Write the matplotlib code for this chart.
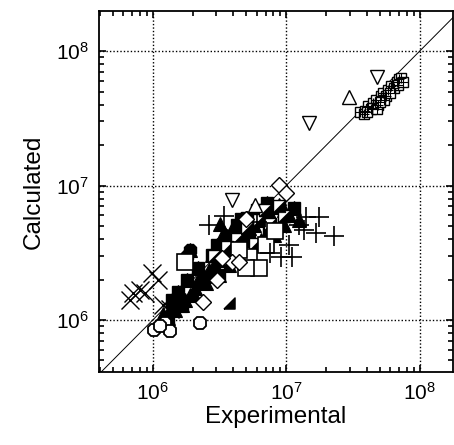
import matplotlib.pyplot as plt
import numpy as np
from matplotlib.ticker import LogLocator, NullFormatter

plt.rcParams['font.family'] = ['Liberation Sans', 'DejaVu Sans']
plt.rcParams['mathtext.fontset'] = 'custom'
plt.rcParams['mathtext.rm'] = 'Liberation Sans'

# --- data (experimental, calculated) ---
sqplus_x = [3.6e7, 3.9e7, 4.1e7, 4.3e7, 4.5e7, 4.7e7, 4.9e7, 5.1e7, 5.3e7, 5.6e7,
            5.8e7, 6.1e7, 6.4e7, 6.7e7, 7.0e7, 7.3e7, 6.9e7, 3.8e7, 4.4e7, 4.8e7,
            5.4e7, 6.0e7, 4.0e7, 5.0e7, 7.5e7]
sqplus_y = [3.5e7, 3.6e7, 3.9e7, 3.7e7, 4.1e7, 4.3e7, 4.0e7, 4.6e7, 4.9e7, 4.6e7,
            5.1e7, 5.5e7, 5.3e7, 5.9e7, 6.2e7, 6.3e7, 5.6e7, 3.4e7, 3.8e7, 3.7e7,
            4.3e7, 4.9e7, 3.5e7, 4.2e7, 5.9e7]

tri_up_x = [2.95e7, 5.8e6]
tri_up_y = [4.55e7, 7.2e6]

tri_dn_x = [4.78e7, 1.48e7, 3.95e6]
tri_dn_y = [6.4e7, 2.9e7, 7.8e6]

diam_x = [8.9e6, 1.0e7, 2.36e6, 3.05e6, 3.9e6, 4.4e6, 5.0e6, 3.3e6]
diam_y = [1.01e7, 8.8e6, 1.36e6, 1.98e6, 2.7e6, 2.7e6, 5.6e6, 2.9e6]

corner_x = [3.75e6]
corner_y = [1.34e6]

circ_x = [2.24e6, 1.03e6, 1.23e6, 1.34e6, 1.13e6]
circ_y = [9.5e5, 8.4e5, 9.5e5, 8.3e5, 9.0e5]

blob_x = [1.89e6, 1.82e6]
blob_y = [3.3e6, 3.0e6]

cross_x = [7.1e5, 8.7e5, 9.8e5, 1.09e6, 6.7e5, 8.0e5, 1.2e6, 1.35e6]
cross_y = [1.59e6, 1.59e6, 2.24e6, 1.98e6, 1.41e6, 1.67e6, 1.3e6, 1.2e6]

plus_x = [1.76e7, 2.28e7, 1.67e7, 1.11e7, 9.2e6, 1.41e7, 1.25e7, 1.37e7, 7.5e6, 2.66e6,
          1.05e7, 6.0e6, 3.4e6]
plus_y = [5.83e6, 4.2e6, 4.4e6, 2.94e6, 2.94e6, 5.83e6, 5.1e6, 4.7e6, 3.15e6, 5.1e6,
          3.6e6, 5.4e6, 5.9e6]

bigsq_x = [5.3e6, 6.3e6, 5.0e6, 4.45e6, 7.0e6, 8.2e6, 1.75e6]
bigsq_y = [2.94e6, 2.44e6, 2.44e6, 3.3e6, 3.6e6, 4.6e6, 2.7e6]

fill_x = [1.29e6, 1.46e6, 1.59e6, 1.39e6, 1.73e6, 1.89e6, 1.54e6, 2.06e6, 2.24e6, 1.82e6,
          2.44e6, 2.66e6, 2.17e6, 2.90e6, 3.16e6, 2.76e6, 3.45e6, 3.75e6, 3.05e6, 4.09e6,
          4.46e6, 3.63e6, 4.86e6, 5.30e6, 4.31e6, 5.77e6, 6.29e6, 5.12e6, 6.85e6, 7.47e6,
          6.08e6, 8.13e6, 8.87e6, 7.21e6, 9.66e6, 1.05e7, 1.15e7, 1.25e7, 9.66e6, 7.47e6,
          6.51e6, 8.13e6, 5.30e6, 4.46e6, 3.75e6, 3.16e6, 1.89e6, 1.35e6, 1.65e6, 2.0e6,
          2.5e6, 2.9e6, 3.4e6, 4.0e6, 4.6e6, 5.5e6, 3.2e6, 3.8e6, 2.2e6, 1.2e6]
fill_y = [1.03e6, 1.19e6, 1.29e6, 1.41e6, 1.41e6, 1.53e6, 1.62e6, 1.73e6, 1.92e6, 1.98e6,
          2.12e6, 2.35e6, 2.44e6, 2.56e6, 2.79e6, 3.04e6, 3.20e6, 3.43e6, 3.61e6, 3.73e6,
          4.07e6, 4.21e6, 4.51e6, 4.83e6, 5.08e6, 5.08e6, 5.54e6, 5.73e6, 6.03e6, 6.35e6,
          6.58e6, 6.92e6, 7.16e6, 7.41e6, 6.58e6, 6.03e6, 6.80e6, 5.54e6, 5.08e6, 4.67e6,
          3.93e6, 4.29e6, 3.93e6, 3.04e6, 2.56e6, 2.16e6, 3.3e6, 1.2e6, 1.3e6, 1.6e6,
          1.9e6, 2.2e6, 4.5e6, 4.9e6, 5.6e6, 6.3e6, 5.2e6, 3.0e6, 2.0e6, 1.1e6]

half_x = [6.3e6, 5.1e6, 8.9e6, 4.3e6, 7.5e6, 3.6e6, 9.6e6, 5.8e6, 2.9e6, 6.9e6]
half_y = [5.5e6, 4.8e6, 7.0e6, 4.0e6, 5.2e6, 3.5e6, 5.9e6, 3.7e6, 3.0e6, 6.6e6]

fig = plt.figure(figsize=(4.54, 4.45), dpi=100)
ax = fig.add_axes([0.218, 0.164, 0.78, 0.811])

lims = [10 ** 5.597, 10 ** 8.30]
ax.plot(lims, lims, color='black', lw=0.7, zorder=1)

corner = [(-1, -1), (1, -1), (1, 1), (-1, -1)]
ax.plot(fill_x, fill_y, ls='none', marker='^', ms=10, mfc='black', mec='black', mew=0.8)
ax.plot(fill_x[::3], fill_y[::3], ls='none', marker='s', ms=8, mfc='black', mec='black')
ax.plot(blob_x, blob_y, ls='none', marker='8', ms=10, mfc='black', mec='black')
ax.plot(half_x, half_y, ls='none', marker='s', ms=9, mfc='white', mec='black', mew=1)
ax.plot(half_x, half_y, ls='none', marker=corner, ms=9, mfc='black', mec='black', mew=0.5)
ax.plot(bigsq_x, bigsq_y, ls='none', marker='s', ms=11, mfc='white', mec='black', mew=1.2)
ax.plot(plus_x, plus_y, ls='none', marker='+', ms=14, mec='black', mew=1.2)
ax.plot(cross_x, cross_y, ls='none', marker='x', ms=13, mec='black', mew=1.0)
ax.plot(circ_x, circ_y, ls='none', marker='8', ms=10, mfc='white', mec='black', mew=1.3)
ax.plot(diam_x, diam_y, ls='none', marker='D', ms=8, mfc='white', mec='black', mew=1)
ax.plot(corner_x, corner_y, ls='none', marker=corner, ms=8, mfc='black', mec='black')
ax.plot(tri_dn_x, tri_dn_y, ls='none', marker='v', ms=10, mfc='white', mec='black', mew=1)
ax.plot(tri_up_x, tri_up_y, ls='none', marker='^', ms=10, mfc='white', mec='black', mew=1)
ax.plot(sqplus_x, sqplus_y, ls='none', marker='s', ms=7.5, mfc='white', mec='black', mew=1)
ax.plot(sqplus_x, sqplus_y, ls='none', marker='+', ms=7.5, mec='black', mew=0.8)

ax.set_xscale('log')
ax.set_yscale('log')
ax.set_xlim(10 ** 5.597, 10 ** 8.25)
ax.set_ylim(10 ** 5.613, 10 ** 8.297)
ax.xaxis.set_major_locator(LogLocator(base=10, numticks=10))
ax.yaxis.set_major_locator(LogLocator(base=10, numticks=10))
ax.xaxis.set_minor_locator(LogLocator(base=10, subs=np.arange(2, 10), numticks=20))
ax.yaxis.set_minor_locator(LogLocator(base=10, subs=np.arange(2, 10), numticks=20))
ax.xaxis.set_minor_formatter(NullFormatter())
ax.yaxis.set_minor_formatter(NullFormatter())

ax.tick_params(which='both', direction='in', top=True, right=True, width=1.2,
               labelsize=15, pad=7)
ax.tick_params(which='major', length=5)
ax.tick_params(which='minor', length=3.5)
for s in ax.spines.values():
    s.set_linewidth(1.3)
ax.grid(True, which='major', ls=(0, (1, 1.5)), color='black', lw=1.0)

ax.set_xlabel('Experimental', fontsize=17.5, labelpad=2)
ax.set_ylabel('Calculated', fontsize=17.5, labelpad=8)

fig.savefig('out.png', dpi=100)
